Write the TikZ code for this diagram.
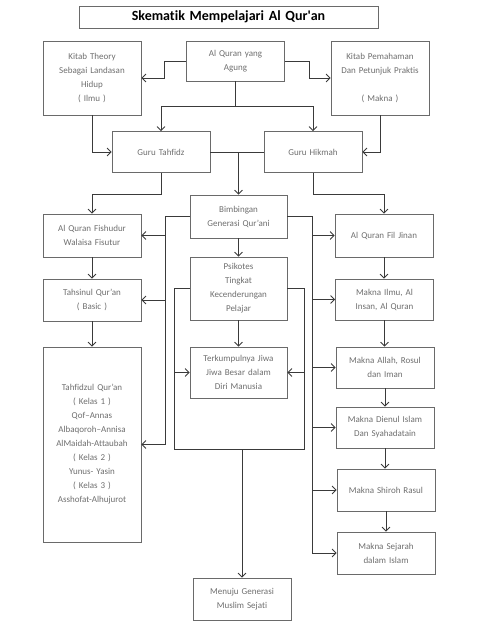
\documentclass[tikz,border=0pt]{standalone}
\usepackage{fontspec}
\setmainfont{Carlito}[Ligatures=NoCommon]
\usetikzlibrary{arrows,arrows.meta}

\definecolor{linegray}{HTML}{3A3A3A}
\definecolor{boxgray}{HTML}{6A6A6A}
\definecolor{textgray}{HTML}{6E6E6E}

\tikzset{
	box/.style = {draw=boxgray, line width=0.8pt, rectangle, inner sep=1pt, align=center,
		text=textgray, font=\fontsize{9}{14}\selectfont,
		minimum width=98pt, text width=94pt, minimum height=41pt},
	line/.style = {draw=linegray, line width=0.8pt},
	link/.style = {line, -{Straight Barb[length=4pt,width=8pt]}}
}

\begin{document}
\begin{tikzpicture}[x=1pt, y=-1pt]
	\useasboundingbox (0,0) rectangle (479,640);
	% judul
	\node[box, minimum width=299pt, text width=290pt, minimum height=22pt,
		text=black, font=\fontsize{14}{16}\selectfont\bfseries] (T) at (228.5,17) {Skematik Mempelajari Al Qur\textquotesingle an};
	% baris atas
		\node[box, minimum height=74pt] (A) at (92,78) {Kitab Theory\\Sebagai Landasan\\Hidup\\( Ilmu )};
		\node[box, minimum height=40pt] (B) at (235.5,61) {Al Quran yang\\Agung};
		\node[box, minimum height=74pt] (C) at (380,78) {Kitab Pemahaman\\Dan Petunjuk Praktis\\[14pt]( Makna )};
	% guru
		\node[box] (D) at (161,152) {Guru Tahfidz};
		\node[box] (E) at (313,152) {Guru Hikmah};
	% tengah
		\node[box, minimum width=97pt, minimum height=43pt] (F) at (238.5,216.5) {Bimbingan\\Generasi Qur'ani};
		\node[box, minimum width=97pt, minimum height=63pt] (I) at (238.5,288.5) {Psikotes\\Tingkat\\Kecenderungan\\Pelajar};
		\node[box, minimum width=97pt, minimum height=51pt] (J) at (238.5,372.5) {Terkumpulnya Jiwa\\Jiwa Besar dalam\\Diri Manusia};
		\node[box, minimum height=42pt] (R) at (242,599) {Menuju Generasi\\Muslim Sejati};
	% kiri
		\node[box, minimum height=43pt] (G) at (92,235.5) {Al Quran Fishudur\\Walaisa Fisutur};
		\node[box, minimum height=42pt] (K) at (92,300) {Tahsinul Qur'an\\( Basic )};
		\node[box, minimum height=195pt] (L) at (92,444.5) {Tahfidzul Qur'an\\( Kelas 1 )\\Qof--Annas\\Albaqoroh--Annisa\\AlMaidah-Attaubah\\( Kelas 2 )\\Yunus- Yasin\\( Kelas 3 )\\Asshofat-Alhujurot};
	% kanan
		\node[box, minimum height=43pt] (H) at (384,235.5) {Al Quran Fil Jinan};
		\node[box] (M) at (384.5,299.5) {Makna Ilmu, Al\\Insan, Al Quran};
		\node[box] (N) at (385,367.5) {Makna Allah, Rosul\\dan Iman};
		\node[box] (O) at (385,427.5) {Makna Dienul Islam\\Dan Syahadatain};
		\node[box, minimum height=42pt] (P) at (386,490) {Makna Shiroh Rasul};
		\node[box, minimum height=42pt] (Q) at (386,553) {Makna Sejarah\\dalam Islam};

	\coordinate (b1) at (235.5,106);
	\coordinate (f1) at (165,216.5);
	\coordinate (f3) at (312,216.5);
	\coordinate (pl) at (174,449);
	\coordinate (pr) at (304,449);

		\draw[link] (B.west) -- ++(-22,0) |- (A.east);
		\draw[link] (B.east) -- ++(24,0) |- (C.west);
		\draw[line] (B.south) -- (b1);
		\draw[link] (b1) -| (D.north);
		\draw[link] (b1) -| (E.north);
		\draw[link] (A.south) |- (D.west);
		\draw[link] (C.south) |- (E.east);
		\draw[line] (D.east) -- (E.west);
		\draw[link] (D.east -| F.north) -- (F.north);
		\draw[link] (D.south) -- ++(0,21) -| (G.north);
		\draw[link] (E.south) -- ++(0,21) -| (H.north);
	% cabang bimbingan
		\draw[link] (F.west) -- (f1) |- (L.east);
		\foreach \n in {G,K}
			\draw[link] (f1 |- \n.east) -- (\n.east);
		\draw[link] (F.east) -- (f3) |- (Q.west);
		\foreach \n in {H,M,N,O,P}
			\draw[link] (f3 |- \n.west) -- (\n.west);
		\draw[link] (F.south) -- (I.north);
		\draw[link] (I.south) -- (J.north);
		\draw[line] (I.west) -| (pl) -- (pr) |- (I.east);
		\draw[link] (pl |- J.west) -- (J.west);
		\draw[link] (pr |- J.east) -- (J.east);
		\draw[link] (pl -| R.north) -- (R.north);
	% rantai
		\foreach \a/\b in {G/K,K/L,H/M,M/N,N/O,O/P,P/Q}
			\draw[link] (\a.south) -- (\a.south |- \b.north);
\end{tikzpicture}
\end{document}
